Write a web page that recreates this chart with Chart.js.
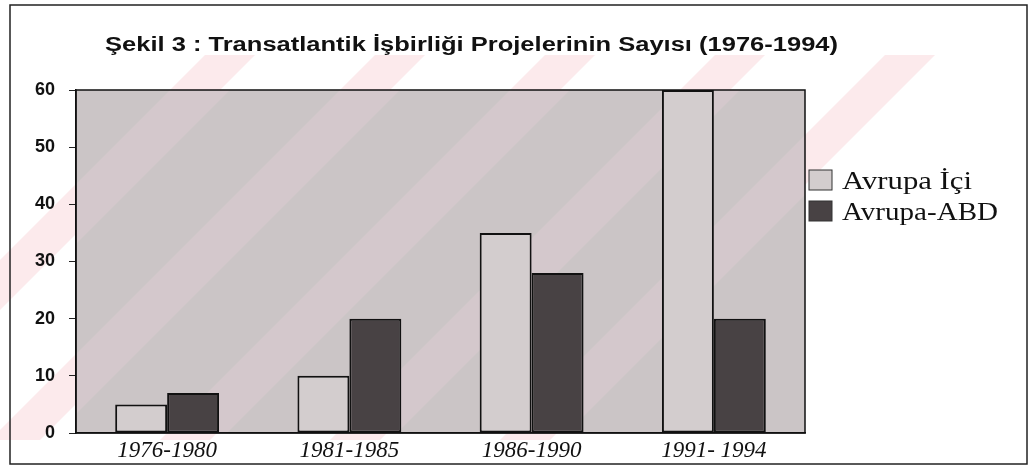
<!DOCTYPE html>
<html lang="tr">

<head>
    <meta charset="UTF-8">
    <title>Şekil 3</title>
    <script src="https://cdn.jsdelivr.net/npm/chart.js"></script>
    <style>
        html, body { margin: 0; padding: 0; background: #fff; }
        #wrap { width: 1034px; height: 468px; }
    </style>
</head>

<body>
    <div id="wrap">
        <canvas id="projeChart" width="1034" height="468"></canvas>
    </div>
<script>
    // veriler
    const categories = ['1976-1980', '1981-1985', '1986-1990', '1991- 1994'];
    const avrupaIci = [5, 10, 35, 60];
    const avrupaAbd = [7, 20, 28, 20];
    const yTicks = [0, 10, 20, 30, 40, 50, 60];
    const seriesNames = ['Avrupa İçi', 'Avrupa-ABD'];
    const chartTitle = 'Şekil 3 : Transatlantik İşbirliği Projelerinin Sayısı (1976-1994)';

    const lightColor = '#d3cdce';
    const darkColor = '#484244';

    // arka plan, çerçeve, başlık ve lejant
    const decor = {
        id: 'decor',
        beforeDraw(chart) {
            const { ctx, chartArea: a } = chart;
            ctx.save();
            ctx.fillStyle = '#fff';
            ctx.fillRect(0, 0, chart.width, chart.height);

            // soluk pembe çapraz şeritler (taranmış sayfadaki filigran)
            ctx.fillStyle = 'rgba(240, 160, 170, 0.22)';
            [-180, -10, 160, 330, 500].forEach(x0 => {
                ctx.beginPath();
                ctx.moveTo(x0, 440);
                ctx.lineTo(x0 + 50, 440);
                ctx.lineTo(x0 + 435, 55);
                ctx.lineTo(x0 + 385, 55);
                ctx.closePath();
                ctx.fill();
            });

            // grafik alanı
            ctx.fillStyle = '#cbc5c6';
            ctx.fillRect(a.left, a.top, a.right - a.left, a.bottom - a.top);
            ctx.beginPath();
            ctx.rect(a.left, a.top, a.right - a.left, a.bottom - a.top);
            ctx.clip();
            ctx.fillStyle = 'rgba(225, 205, 210, 0.45)';
            [-180, -10, 160, 330, 500].forEach(x0 => {
                ctx.beginPath();
                ctx.moveTo(x0, 440);
                ctx.lineTo(x0 + 60, 440);
                ctx.lineTo(x0 + 445, 55);
                ctx.lineTo(x0 + 385, 55);
                ctx.closePath();
                ctx.fill();
            });
            ctx.restore();
        },
        afterDraw(chart) {
            const { ctx, chartArea: a } = chart;
            ctx.save();
            ctx.strokeStyle = '#111';
            ctx.lineWidth = 1.5;
            ctx.strokeRect(a.left, a.top, a.right - a.left, a.bottom - a.top);

            // dış çerçeve
            ctx.lineWidth = 1.5;
            ctx.strokeStyle = '#222';
            ctx.strokeRect(10, 5, 1017, 459);

            // başlık
            ctx.fillStyle = '#111';
            ctx.font = 'bold 20px "Liberation Sans", Arial, sans-serif';
            ctx.textBaseline = 'alphabetic';
            const tw = ctx.measureText(chartTitle).width;
            ctx.save();
            ctx.translate(105, 51);
            ctx.scale(733 / tw, 1);
            ctx.fillText(chartTitle, 0, 0);
            ctx.restore();

            // lejant
            const colors = chart.data.datasets.map(d => d.backgroundColor);
            const rowY = [180, 211];
            const widths = [130, 156];
            ctx.font = '26px "Liberation Serif", "Times New Roman", serif';
            chart.data.datasets.forEach((d, i) => {
                const y = rowY[i];
                ctx.fillStyle = colors[i];
                ctx.fillRect(809, y - 10, 23, 20);
                ctx.strokeStyle = '#333';
                ctx.lineWidth = 1;
                ctx.strokeRect(809, y - 10, 23, 20);
                ctx.fillStyle = '#111';
                const w = ctx.measureText(d.label).width;
                ctx.save();
                ctx.translate(842, y + 9);
                ctx.scale(widths[i] / w, 1);
                ctx.fillText(d.label, 0, 0);
                ctx.restore();
            });
            ctx.restore();
        }
    };

    const ctx = document.getElementById('projeChart').getContext('2d');
    new Chart(ctx, {
        type: 'bar',
        data: {
            labels: categories,
            datasets: [{
                label: seriesNames[0],
                data: avrupaIci,
                backgroundColor: lightColor,
                borderColor: '#111',
                borderWidth: 2,
                borderSkipped: false,
                barPercentage: 1,
                categoryPercentage: 0.57
            }, {
                label: seriesNames[1],
                data: avrupaAbd,
                backgroundColor: darkColor,
                borderColor: '#111',
                borderWidth: 2,
                borderSkipped: false,
                barPercentage: 1,
                categoryPercentage: 0.57
            }]
        },
        options: {
            responsive: false,
            animation: false,
            layout: {
                padding: { top: 90, right: 229, bottom: 0, left: 0 }
            },
            scales: {
                x: {
                    afterFit(scale) { scale.height = 35; },
                    grid: { display: false, drawTicks: false },
                    border: { display: true, color: '#111', width: 1.5 },
                    ticks: {
                        color: '#111',
                        padding: 4,
                        font: { family: '"Liberation Serif", "Times New Roman", serif', size: 23, style: 'italic' }
                    }
                },
                y: {
                    min: 0,
                    max: 60,
                    afterFit(scale) { scale.width = 76; },
                    afterBuildTicks(scale) { scale.ticks = yTicks.map(v => ({ value: v })); },
                    grid: { drawOnChartArea: false, drawTicks: true, tickLength: 7, color: '#222' },
                    border: { display: true, color: '#111', width: 1.5 },
                    ticks: {
                        color: '#111',
                        padding: 14,
                        font: { family: '"Liberation Sans", Arial, sans-serif', size: 18, weight: 'bold' }
                    }
                }
            },
            plugins: {
                legend: { display: false },
                title: { display: false },
                tooltip: { enabled: false }
            }
        },
        plugins: [decor]
    });
</script>
</body>

</html>
